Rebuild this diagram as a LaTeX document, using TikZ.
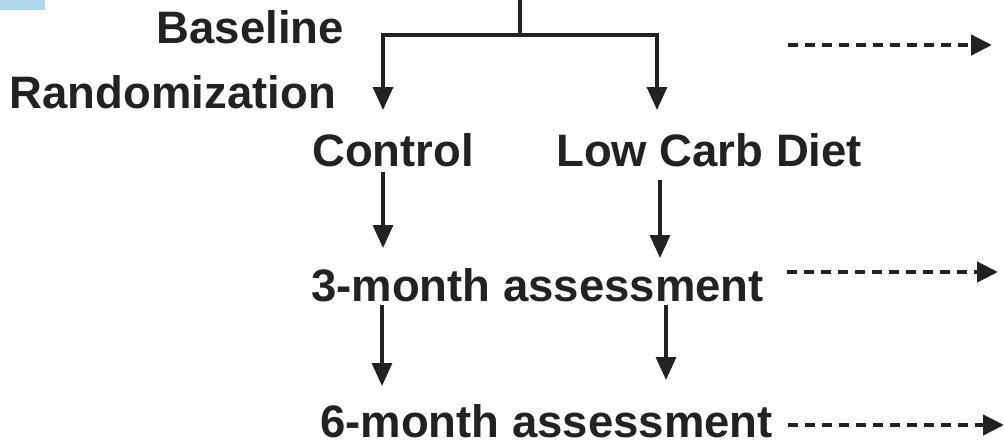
\documentclass[tikz,border=0pt]{standalone}
\usepackage{fontspec}
\setmainfont{Liberation Sans}
\usetikzlibrary{arrows.meta}
\definecolor{ink}{HTML}{222222}
\definecolor{tabblue}{HTML}{AED8EE}
\tikzset{
  lbl/.style={font=\fontsize{45.5}{50}\selectfont\bfseries, text=ink, inner sep=0pt},
  flow/.style={draw=ink, line width=3.2pt, -{Triangle[length=23pt,width=20pt]}},
  plain/.style={draw=ink, line width=3.2pt},
  fwd/.style={draw=ink, line width=4.5pt, dash pattern=on 10pt off 7pt, -{Triangle[length=21pt,width=20pt]}}
}
\begin{document}
\begin{tikzpicture}[x=1pt,y=-1pt]
\useasboundingbox (0,0) rectangle (1004,445);
\fill[tabblue] (0,0) rectangle (45,10);
% labels
\node[lbl, anchor=east] (base) at (344,27) {Baseline};
\node[lbl, anchor=east] (rand) at (336,92) {Randomization};
\node[lbl, anchor=west] (ctrl) at (312,150) {Control};
\node[lbl, anchor=west] (lcd) at (556,150) {Low Carb Diet};
\node[lbl, anchor=west] (m3) at (311,285) {3-month assessment};
\node[lbl, anchor=west] (m6) at (320,421) {6-month assessment};
% branching
\coordinate (top) at (520,0);
\coordinate (mid) at (520,35);
\coordinate (bl) at (383,35);
\coordinate (br) at (657,35);
\coordinate (al) at (383,110);
\coordinate (ar) at (657,110);
\draw[plain] (top) -- (mid);
\draw[plain, line join=miter, -{Triangle[length=23pt,width=20pt]}] (bl) -- (br) -- (ar);
\draw[plain, line join=miter, -{Triangle[length=23pt,width=20pt]}] (br) -- (bl) -- (al);
% vertical arrows
\coordinate (c1) at (383,172); \coordinate (c2) at (383,248);
\coordinate (d1) at (660,180); \coordinate (d2) at (660,258);
\coordinate (c3) at (382,305); \coordinate (c4) at (382,386);
\coordinate (d3) at (666,305); \coordinate (d4) at (666,380);
\draw[flow] (c1) -- (c2);
\draw[flow] (d1) -- (d2);
\draw[flow] (c3) -- (c4);
\draw[flow] (d3) -- (d4);
% dashed forward arrows
\coordinate (f1) at (788,45); \coordinate (g1) at (992,45);
\coordinate (f2) at (787,272); \coordinate (g2) at (998,272);
\coordinate (f3) at (788,425); \coordinate (g3) at (1004,425);
\draw[fwd] (f1) -- (g1);
\draw[fwd] (f2) -- (g2);
\draw[fwd] (f3) -- (g3);
\end{tikzpicture}
\end{document}
